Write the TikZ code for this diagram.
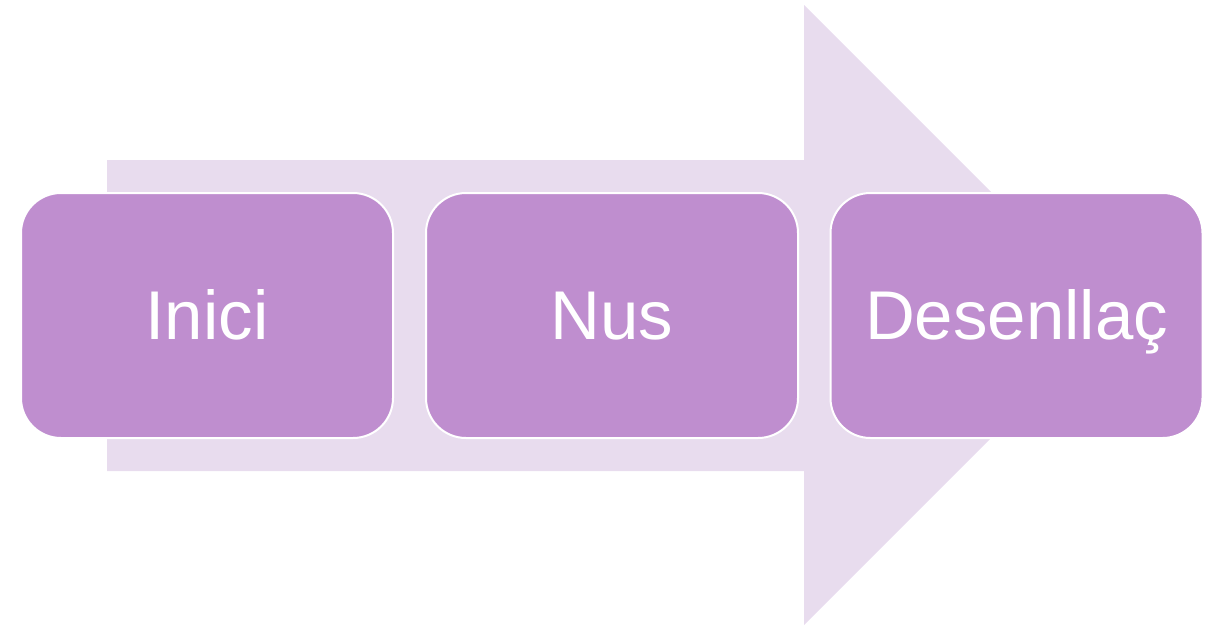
\documentclass[tikz,border=0pt]{standalone}
\usepackage{fontspec}
\setmainfont{Liberation Sans}
\definecolor{boxfill}{HTML}{BF8ECF}
\definecolor{arrowfill}{HTML}{E8DCEE}
\begin{document}
\begin{tikzpicture}[x=1pt,y=-1pt,
  stagebox/.style={draw=white, line width=2pt, fill=boxfill, rounded corners=40pt,
    minimum width=372pt, minimum height=245pt, inner sep=0pt,
    text height=51pt, text depth=4pt,
    text=white, font=\fontsize{69}{69}\selectfont}]
\useasboundingbox (0,0) rectangle (1216,625);
\fill[arrowfill] (107,160) -- (804,160) -- (804,5) -- (1114,315) -- (804,625) -- (804,471) -- (107,471) -- cycle;
\node[stagebox] (inici) at (207,315.5) {Inici};
\node[stagebox] (nus) at (612,315.5) {Nus};
\node[stagebox] (desenllac) at (1016.5,315.5) {Desenllaç};
\end{tikzpicture}
\end{document}
